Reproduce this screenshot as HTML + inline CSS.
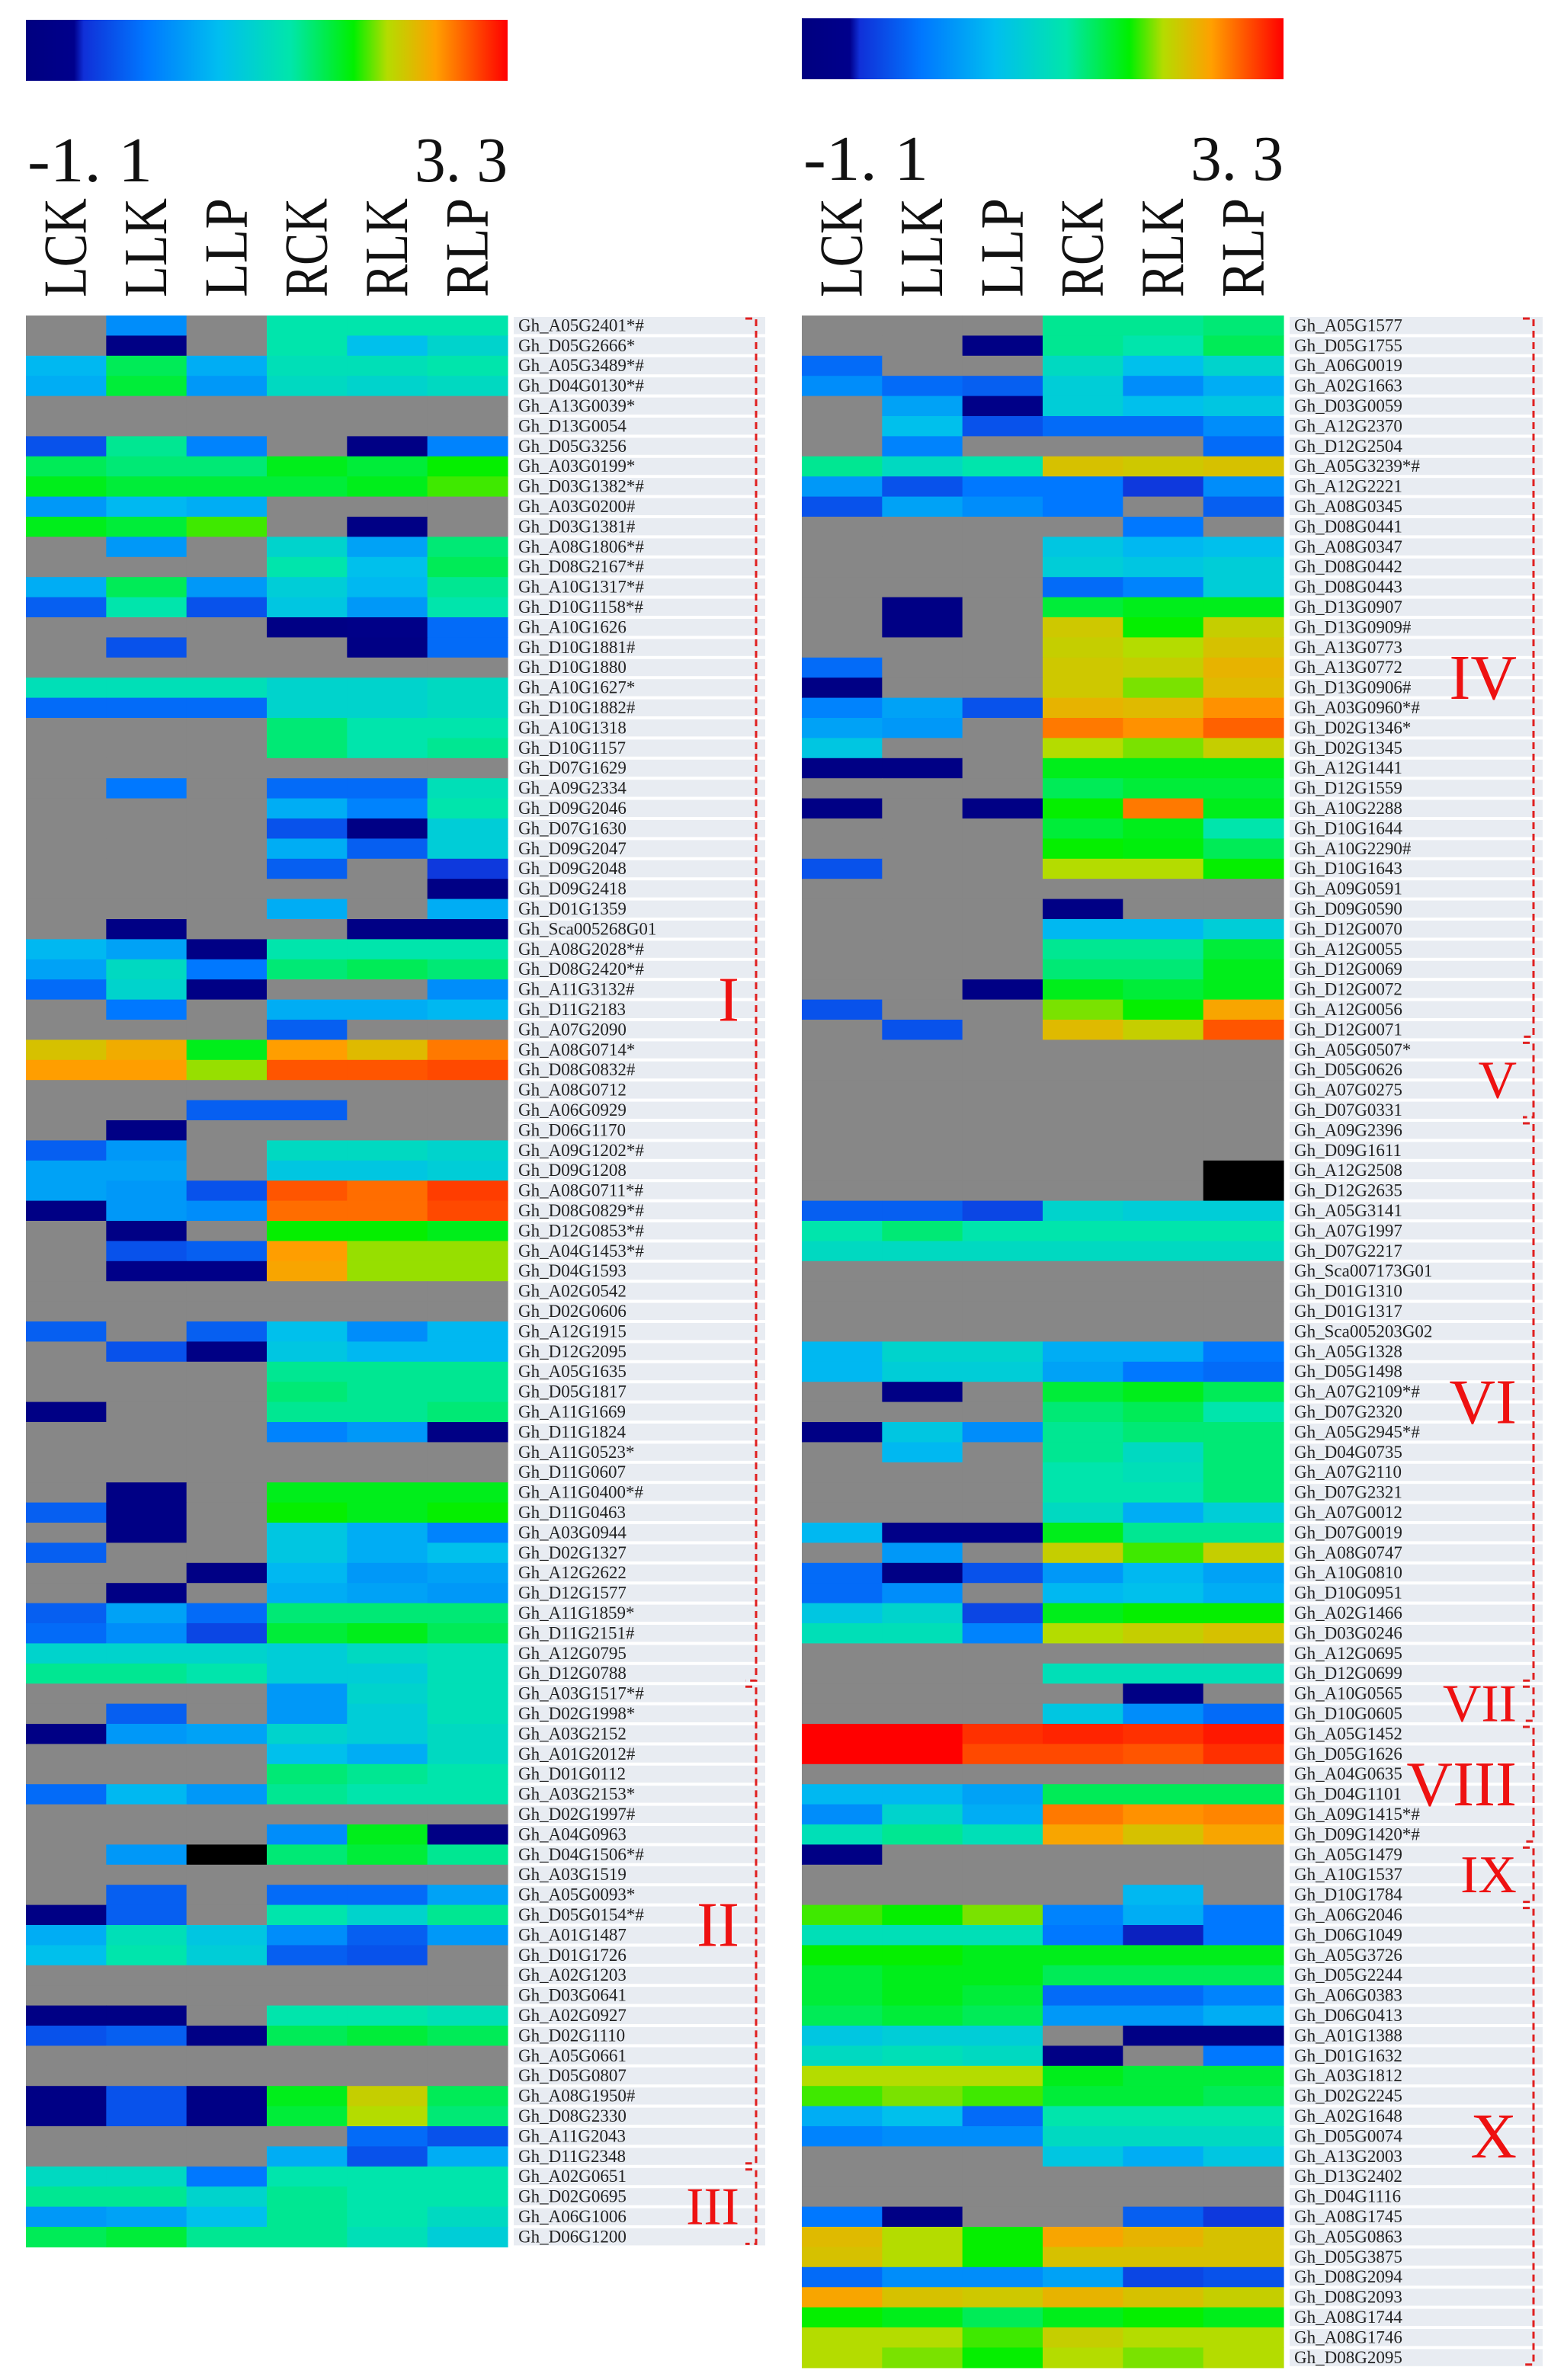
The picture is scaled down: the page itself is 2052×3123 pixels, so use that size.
<!DOCTYPE html>
<html><head><meta charset="utf-8">
<style>
html,body{margin:0;padding:0;background:#fff;}
svg{display:block;}
</style></head>
<body>
<svg id="fig" xmlns="http://www.w3.org/2000/svg" width="2052" height="3123" viewBox="0 0 2052 3123">
<defs>
<linearGradient id="cbar" x1="0" x2="1" y1="0" y2="0">
<stop offset="0" stop-color="#000080"/><stop offset="0.1" stop-color="#00008c"/>
<stop offset="0.12" stop-color="#1030d8"/><stop offset="0.25" stop-color="#0078ff"/>
<stop offset="0.4" stop-color="#00bef0"/><stop offset="0.55" stop-color="#00e6aa"/>
<stop offset="0.68" stop-color="#00f000"/><stop offset="0.75" stop-color="#b4dc00"/>
<stop offset="0.85" stop-color="#ffa000"/><stop offset="1" stop-color="#ff0000"/>
</linearGradient>
</defs>
<g id="root"></g>
</svg>
<script>
const NS="http://www.w3.org/2000/svg";
const VMIN=-1.1, VMAX=3.3;
const columns=["LCK","LLK","LLP","RCK","RLK","RLP"];
const tickLabels=["-1. 1","3. 3"];
const n=null;
const leftGenes=["Gh_A05G2401*#","Gh_D05G2666*","Gh_A05G3489*#","Gh_D04G0130*#","Gh_A13G0039*","Gh_D13G0054","Gh_D05G3256","Gh_A03G0199*","Gh_D03G1382*#","Gh_A03G0200#","Gh_D03G1381#","Gh_A08G1806*#","Gh_D08G2167*#","Gh_A10G1317*#","Gh_D10G1158*#","Gh_A10G1626","Gh_D10G1881#","Gh_D10G1880","Gh_A10G1627*","Gh_D10G1882#","Gh_A10G1318","Gh_D10G1157","Gh_D07G1629","Gh_A09G2334","Gh_D09G2046","Gh_D07G1630","Gh_D09G2047","Gh_D09G2048","Gh_D09G2418","Gh_D01G1359","Gh_Sca005268G01","Gh_A08G2028*#","Gh_D08G2420*#","Gh_A11G3132#","Gh_D11G2183","Gh_A07G2090","Gh_A08G0714*","Gh_D08G0832#","Gh_A08G0712","Gh_A06G0929","Gh_D06G1170","Gh_A09G1202*#","Gh_D09G1208","Gh_A08G0711*#","Gh_D08G0829*#","Gh_D12G0853*#","Gh_A04G1453*#","Gh_D04G1593","Gh_A02G0542","Gh_D02G0606","Gh_A12G1915","Gh_D12G2095","Gh_A05G1635","Gh_D05G1817","Gh_A11G1669","Gh_D11G1824","Gh_A11G0523*","Gh_D11G0607","Gh_A11G0400*#","Gh_D11G0463","Gh_A03G0944","Gh_D02G1327","Gh_A12G2622","Gh_D12G1577","Gh_A11G1859*","Gh_D11G2151#","Gh_A12G0795","Gh_D12G0788","Gh_A03G1517*#","Gh_D02G1998*","Gh_A03G2152","Gh_A01G2012#","Gh_D01G0112","Gh_A03G2153*","Gh_D02G1997#","Gh_A04G0963","Gh_D04G1506*#","Gh_A03G1519","Gh_A05G0093*","Gh_D05G0154*#","Gh_A01G1487","Gh_D01G1726","Gh_A02G1203","Gh_D03G0641","Gh_A02G0927","Gh_D02G1110","Gh_A05G0661","Gh_D05G0807","Gh_A08G1950#","Gh_D08G2330","Gh_A11G2043","Gh_D11G2348","Gh_A02G0651","Gh_D02G0695","Gh_A06G1006","Gh_D06G1200"];
const leftValues=[
[n,0.2,n,1.3,1.3,1.3],[n,-0.9,n,1.3,0.7,1.0],[0.6,1.6,0.5,1.2,1.2,1.3],[0.5,1.7,0.3,1.1,1.0,1.1],[n,n,n,n,n,n],[n,n,n,n,n,n],[-0.3,1.4,0.1,n,-0.9,0.1],[1.6,1.5,1.5,1.8,1.7,1.9],[1.8,1.7,1.7,1.7,1.8,2.0],[0.3,0.6,0.5,n,n,n],
[1.8,1.7,2.0,n,-0.9,n],[n,0.3,n,1.0,0.4,1.5],[n,n,n,1.3,0.7,1.6],[0.5,1.6,0.3,0.9,0.6,1.4],[-0.2,1.3,-0.3,0.8,0.3,1.3],[n,n,n,-0.9,-0.8,-0.1],[n,-0.3,n,n,-0.9,-0.1],[n,n,n,n,n,n],[1.2,1.2,1.2,1.0,1.0,1.1],[-0.1,-0.1,-0.1,1.0,1.0,1.1],
[n,n,n,1.5,1.3,1.3],[n,n,n,1.5,1.3,1.4],[n,n,n,n,n,n],[n,0.0,n,-0.1,-0.1,1.2],[n,n,n,0.5,0.1,1.3],[n,n,n,-0.3,-0.9,0.9],[n,n,n,0.5,-0.2,0.9],[n,n,n,-0.2,n,-0.5],[n,n,n,n,n,-0.9],[n,n,n,0.5,n,0.5],
[n,-0.9,n,n,-0.9,-0.9],[0.6,0.4,-0.9,1.3,1.3,1.3],[0.4,1.1,0.0,1.5,1.6,1.5],[-0.1,1.0,-0.9,n,n,0.2],[n,0.0,n,0.5,0.5,0.6],[n,n,n,-0.2,n,n],[2.4,2.55,1.8,2.65,2.45,2.8],[2.65,2.65,2.15,2.95,2.95,3.0],[n,n,n,n,n,n],[n,n,-0.2,-0.2,n,n],
[n,-0.9,n,n,n,n],[-0.2,0.3,n,1.1,1.1,1.0],[0.4,0.4,n,0.8,0.8,0.9],[0.4,0.3,-0.3,2.95,2.85,3.05],[-0.9,0.3,0.2,2.85,2.85,3.0],[n,-0.9,n,1.9,1.9,1.8],[n,-0.3,-0.2,2.65,2.15,2.15],[n,-0.8,-0.8,2.6,2.15,2.15],[n,n,n,n,n,n],[n,n,n,n,n,n],
[-0.2,n,-0.2,0.7,0.2,0.6],[n,-0.3,-0.9,0.8,0.6,0.6],[n,n,n,1.4,1.4,1.4],[n,n,n,1.5,1.4,1.4],[-0.9,n,n,1.4,1.4,1.5],[n,n,n,0.1,0.3,-0.9],[n,n,n,n,n,n],[n,n,n,n,n,n],[n,-0.9,n,1.8,1.8,1.8],[-0.2,-0.9,n,1.9,1.8,1.9],
[n,-0.9,n,0.8,0.5,0.1],[-0.2,n,n,0.8,0.5,0.7],[n,n,-0.9,0.6,0.3,0.4],[n,-0.9,n,0.5,0.4,0.3],[-0.2,0.4,-0.1,1.5,1.5,1.5],[-0.1,0.2,-0.4,1.7,1.8,1.6],[1.0,1.0,1.0,0.9,1.1,1.2],[1.4,1.4,1.3,0.9,0.9,1.2],[n,n,n,0.3,1.0,1.2],[n,-0.2,n,0.3,0.9,1.2],
[-0.9,0.3,0.4,1.0,0.9,1.1],[n,n,n,0.7,0.5,1.1],[n,n,n,1.5,1.4,1.3],[-0.1,0.6,0.3,1.4,1.3,1.3],[n,n,n,n,n,n],[n,n,n,0.2,1.8,-0.9],[n,0.3,-1.5,1.5,1.7,1.4],[n,n,n,n,n,n],[n,-0.2,n,-0.1,-0.1,0.4],[-0.9,-0.2,n,1.3,1.0,1.4],
[0.5,1.2,0.8,0.2,-0.2,0.3],[0.7,1.3,0.9,-0.2,-0.3,n],[n,n,n,n,n,n],[n,n,n,n,n,n],[-0.9,-0.9,n,1.3,1.3,1.2],[-0.3,-0.2,-0.9,1.6,1.7,1.6],[n,n,n,n,n,n],[n,n,n,n,n,n],[-0.9,-0.3,-0.9,1.8,2.3,1.6],[-0.9,-0.3,-0.9,1.7,2.2,1.5],
[n,n,n,n,-0.1,-0.3],[n,n,n,0.5,-0.3,0.5],[1.1,1.1,0.0,1.3,1.3,1.3],[1.4,1.4,1.0,1.4,1.3,1.3],[0.3,0.4,0.7,1.4,1.3,1.1],[1.6,1.7,1.4,1.4,1.2,0.9]];
const rightGenes=["Gh_A05G1577","Gh_D05G1755","Gh_A06G0019","Gh_A02G1663","Gh_D03G0059","Gh_A12G2370","Gh_D12G2504","Gh_A05G3239*#","Gh_A12G2221","Gh_A08G0345","Gh_D08G0441","Gh_A08G0347","Gh_D08G0442","Gh_D08G0443","Gh_D13G0907","Gh_D13G0909#","Gh_A13G0773","Gh_A13G0772","Gh_D13G0906#","Gh_A03G0960*#","Gh_D02G1346*","Gh_D02G1345","Gh_A12G1441","Gh_D12G1559","Gh_A10G2288","Gh_D10G1644","Gh_A10G2290#","Gh_D10G1643","Gh_A09G0591","Gh_D09G0590","Gh_D12G0070","Gh_A12G0055","Gh_D12G0069","Gh_D12G0072","Gh_A12G0056","Gh_D12G0071","Gh_A05G0507*","Gh_D05G0626","Gh_A07G0275","Gh_D07G0331","Gh_A09G2396","Gh_D09G1611","Gh_A12G2508","Gh_D12G2635","Gh_A05G3141","Gh_A07G1997","Gh_D07G2217","Gh_Sca007173G01","Gh_D01G1310","Gh_D01G1317","Gh_Sca005203G02","Gh_A05G1328","Gh_D05G1498","Gh_A07G2109*#","Gh_D07G2320","Gh_A05G2945*#","Gh_D04G0735","Gh_A07G2110","Gh_D07G2321","Gh_A07G0012","Gh_D07G0019","Gh_A08G0747","Gh_A10G0810","Gh_D10G0951","Gh_A02G1466","Gh_D03G0246","Gh_A12G0695","Gh_D12G0699","Gh_A10G0565","Gh_D10G0605","Gh_A05G1452","Gh_D05G1626","Gh_A04G0635","Gh_D04G1101","Gh_A09G1415*#","Gh_D09G1420*#","Gh_A05G1479","Gh_A10G1537","Gh_D10G1784","Gh_A06G2046","Gh_D06G1049","Gh_A05G3726","Gh_D05G2244","Gh_A06G0383","Gh_D06G0413","Gh_A01G1388","Gh_D01G1632","Gh_A03G1812","Gh_D02G2245","Gh_A02G1648","Gh_D05G0074","Gh_A13G2003","Gh_D13G2402","Gh_D04G1116","Gh_A08G1745","Gh_A05G0863","Gh_D05G3875","Gh_D08G2094","Gh_D08G2093","Gh_A08G1744","Gh_A08G1746","Gh_D08G2095"];
const rightValues=[
[n,n,n,1.4,1.4,1.5],[n,n,-0.9,1.4,1.3,1.6],[-0.1,n,n,1.1,0.7,1.0],[0.2,-0.1,-0.2,0.9,0.2,0.5],[n,0.4,-0.8,0.9,0.7,0.8],[n,0.7,-0.3,-0.1,-0.1,0.2],[n,0.1,n,n,n,-0.1],[1.4,1.1,1.3,2.4,2.35,2.4],[0.3,-0.3,0.0,0.0,-0.5,0.2],[-0.3,0.4,0.2,0.0,n,-0.2],
[n,n,n,n,0.0,n],[n,n,n,0.8,0.6,0.7],[n,n,n,0.9,0.8,0.9],[n,n,n,-0.1,0.1,0.9],[n,-0.9,n,1.7,1.8,1.8],[n,-0.9,n,2.35,1.9,2.3],[n,n,n,2.3,2.2,2.4],[-0.1,n,n,2.35,2.3,2.5],[-0.9,n,n,2.35,2.1,2.45],[0.1,0.4,-0.3,2.5,2.45,2.7],
[0.4,0.3,n,2.8,2.7,2.9],[0.8,n,n,2.2,2.1,2.3],[-0.9,-0.9,n,1.8,1.8,1.8],[n,n,n,1.6,1.7,1.7],[-0.9,n,-0.9,1.9,2.8,1.8],[n,n,n,1.7,1.8,1.3],[n,n,n,1.9,1.85,1.6],[-0.3,n,n,2.2,2.2,1.9],[n,n,n,n,n,n],[n,n,n,-0.9,n,n],
[n,n,n,0.6,0.6,0.9],[n,n,n,1.4,1.4,1.7],[n,n,n,1.5,1.5,1.8],[n,n,-0.9,1.8,1.7,1.8],[-0.3,n,n,2.1,1.9,2.6],[n,-0.3,n,2.45,2.3,2.95],[n,n,n,n,n,n],[n,n,n,n,n,n],[n,n,n,n,n,n],[n,n,n,n,n,n],
[n,n,n,n,n,n],[n,n,n,n,n,n],[n,n,n,n,n,-1.5],[n,n,n,n,n,-1.5],[-0.2,-0.2,-0.4,1.0,0.9,0.9],[1.3,1.5,1.3,1.3,1.3,1.3],[1.1,1.1,1.1,1.1,1.1,1.1],[n,n,n,n,n,n],[n,n,n,n,n,n],[n,n,n,n,n,n],
[n,n,n,n,n,n],[0.6,1.0,1.0,0.5,0.5,0.0],[0.6,0.9,0.9,0.4,0.0,-0.1],[n,-0.9,n,1.7,1.8,1.6],[n,n,n,1.5,1.6,1.3],[-0.9,0.8,0.2,1.4,1.5,1.5],[n,0.6,n,1.4,1.1,1.5],[n,n,n,1.3,1.2,1.5],[n,n,n,1.3,1.3,1.5],[n,n,n,1.1,0.5,0.9],
[0.6,-0.8,-0.8,1.8,1.4,1.4],[n,0.3,n,2.3,2.0,2.3],[-0.1,-0.9,-0.3,0.3,0.6,0.4],[-0.1,0.2,n,0.6,0.7,0.5],[0.8,1.0,-0.4,1.8,1.9,1.9],[1.2,1.2,0.1,2.2,2.3,2.4],[n,n,n,n,n,n],[n,n,n,1.2,1.2,1.2],[n,n,n,n,-0.9,n],[n,n,n,0.8,0.2,-0.1],
[3.3,3.3,3.1,3.15,3.1,3.2],[3.3,3.3,3.0,3.0,2.95,3.1],[n,n,n,n,n,n],[0.6,0.6,0.4,1.6,1.6,1.6],[0.2,1.0,0.5,2.8,2.7,2.75],[1.2,1.4,1.2,2.6,2.4,2.6],[-0.9,n,n,n,n,n],[n,n,n,n,n,n],[n,n,n,n,0.6,n],[2.0,1.9,2.1,0.1,0.5,0.0],
[1.2,1.2,1.2,0.0,-0.6,0.0],[1.9,1.9,1.8,1.8,1.8,1.8],[1.7,1.8,1.8,1.6,1.6,1.6],[1.7,1.8,1.7,-0.1,-0.1,0.1],[1.6,1.7,1.6,0.3,0.3,0.5],[0.8,0.9,0.9,n,-0.9,-0.9],[1.1,1.2,1.1,-0.9,n,0.0],[2.2,2.2,2.2,1.8,1.7,1.7],[2.0,2.1,2.0,1.7,1.7,1.6],[0.5,0.7,-0.1,1.3,1.3,1.3],
[0.1,0.2,0.2,1.1,1.1,1.1],[n,n,n,0.8,0.5,0.8],[n,n,n,n,n,n],[n,n,n,n,n,n],[0.0,-0.9,n,n,-0.2,-0.5],[2.45,2.2,1.9,2.6,2.5,2.4],[2.4,2.2,1.9,2.4,2.4,2.4],[-0.1,0.2,0.2,0.4,-0.4,-0.3],[2.6,2.4,2.35,2.5,2.4,2.3],[1.9,1.8,1.6,1.8,1.9,1.8],
[2.2,2.2,2.0,2.3,2.2,2.2],[2.2,2.1,1.9,2.2,2.1,2.2]];
const leftClusters=["I","II","III"];
const leftClusterRows=[[0,67],[68,91],[92,95]];
const rightClusters=["IV","V","VI","VII","VIII","IX","X"];
const rightClusterRows=[[0,35],[36,39],[40,67],[68,69],[70,75],[76,78],[79,101]];

const stops=[[0,[0,0,128]],[0.1,[0,0,140]],[0.12,[16,48,216]],[0.25,[0,120,255]],[0.4,[0,190,240]],[0.55,[0,230,170]],[0.68,[0,240,0]],[0.75,[180,220,0]],[0.85,[255,160,0]],[1,[255,0,0]]];
function colorOf(v){
  if(v===null) return "#878787";
  if(v<VMIN) return "#000000";
  let t=Math.max(0,Math.min(1,(v-VMIN)/(VMAX-VMIN)));
  for(let i=1;i<stops.length;i++){
    if(t<=stops[i][0]){const a=stops[i-1],b=stops[i];const f=(t-a[0])/(b[0]-a[0]);
      const c=a[1].map((x,k)=>Math.round(x+(b[1][k]-x)*f));return `rgb(${c[0]},${c[1]},${c[2]})`;}
  }
  return "rgb(255,0,0)";
}
const root=document.getElementById('root');
function el(tag,attrs,parent){const e=document.createElementNS(NS,tag);for(const k in attrs)e.setAttribute(k,attrs[k]);(parent||root).appendChild(e);return e;}

function panel(side,x0,y0,genes,values,clusters,clusterRows,cbY,bx,stripeW){
  const W=632, rowH=26.4, colW=W/columns.length;
  const xScale=c=>x0+c*colW, yScale=r=>y0+r*rowH;
  const g=el('g',{});
  
  
  const cb=el('rect',{x:x0,y:cbY,width:W,height:80,fill:'url(#cbar)'},g);
  
  
  const t1=el('text',{x:x0+2,y:cbY+212,'font-family':'Liberation Serif, serif','font-size':84,textLength:164,lengthAdjust:'spacingAndGlyphs',fill:'#111'},g);
  t1.textContent=tickLabels[0];
  
  
  const t2=el('text',{x:x0+W,y:cbY+212,'text-anchor':'end','font-family':'Liberation Serif, serif','font-size':84,textLength:122,lengthAdjust:'spacingAndGlyphs',fill:'#111'},g);
  t2.textContent=tickLabels[1];
  
  
  columns.forEach((c,i)=>{
    const cx=xScale(i)+colW/2+26, by=390;
    const t=el('text',{x:0,y:0,transform:`translate(${cx},${by}) rotate(-90)`,'font-family':'Liberation Serif, serif','font-size':80,textLength:130,lengthAdjust:'spacingAndGlyphs',fill:'#111'},g);
    t.textContent=c;
    
    
  });
  values.forEach((row,r)=>{
    row.forEach((v,c)=>{
      const rc=el('rect',{x:xScale(c),y:yScale(r),width:colW+0.6,height:rowH+0.6,fill:colorOf(v)},g);
      
      
    });
  });
  genes.forEach((gn,r)=>{
    const s=el('rect',{x:x0+W+8,y:yScale(r)+2,width:stripeW,height:rowH-4,fill:'#e8ecf2'},g);
    
    
    const t=el('text',{x:x0+W+14,y:yScale(r)+rowH-6,'font-family':'Liberation Serif, serif','font-size':23,fill:'#222'},g);
    t.textContent=gn;
    
    
  });
  clusters.forEach((name,i)=>{
    const [a,b]=clusterRows[i];
    const ya=yScale(a)+4, yb=yScale(b+1)-4;
    const p=el('path',{d:`M${bx-14},${ya} H${bx} V${yb} H${bx-14}`,fill:'none',stroke:'#e02020','stroke-width':3,'stroke-dasharray':'9 6'},g);
    
    
    const fs=(b-a)<4?70:84;
    const t=el('text',{x:bx-22,y:(ya+yb)/2+fs*0.33,'text-anchor':'end','font-family':'Liberation Serif, serif','font-size':fs,fill:'#ee1111'},g);
    t.textContent=name;
    
    
  });
}
panel('left',34,414,leftGenes,leftValues,leftClusters,leftClusterRows,26,992,330);
panel('right',1052,414,rightGenes,rightValues,rightClusters,rightClusterRows,24,2012,332);
</script>
</body></html>
